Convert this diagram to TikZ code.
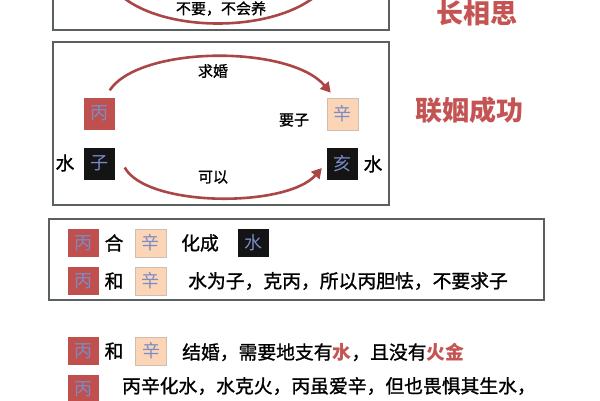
\documentclass[tikz,border=0pt]{standalone}
\usepackage{fontspec}
\newfontfamily\cjk{Noto Sans CJK SC}
\newfontfamily\cjkdark[FakeBold=1.2]{Noto Sans CJK SC}
\usetikzlibrary{arrows.meta}
\definecolor{bingred}{RGB}{192,80,77}
\definecolor{xinpeach}{RGB}{251,213,181}
\definecolor{xinedge}{RGB}{205,190,175}
\definecolor{glyphblue}{RGB}{120,140,200}
\definecolor{titlered}{RGB}{196,84,84}
\definecolor{arcred}{RGB}{170,70,70}
\definecolor{framegray}{RGB}{90,95,95}
\tikzset{
  ganzhi/.style={minimum width=31pt, minimum height=28pt, inner sep=0pt, text=glyphblue, font=\cjk\fontsize{18}{18}\selectfont},
  bingbox/.style={ganzhi, fill=bingred},
  xinbox/.style={ganzhi, fill=xinpeach, draw=xinedge, line width=0.6pt},
  heibox/.style={ganzhi, fill=black!92},
  frame/.style={draw=framegray, line width=1.2pt},
  note/.style={font=\cjkdark\fontsize{15}{15}\selectfont},
  body/.style={font=\cjkdark\fontsize{18.8}{19}\selectfont, inner sep=0pt},
  title/.style={font=\cjk\bfseries\fontsize{27}{27}\selectfont, text=titlered},
  arcline/.style={draw=arcred, line width=2.6pt, -{Triangle[length=10pt,width=11pt]}},
}
\begin{document}
\begin{tikzpicture}[x=1pt,y=-1pt]
			\clip (0,0) rectangle (600,400);
			%%%%% START %%%%%
			% top box, cut by the page edge
			\draw[frame] (53,-40) rectangle (389,30);
			\coordinate (topl) at (108,-20);
			\coordinate (topr) at (330,-20);
			\draw[draw=arcred, line width=2.6pt] (topl) .. controls (140,38) and (295,38) .. (topr);
			\node[note] (buyao) at (221,8.5) {不要，不会养};
			\node[title] (changxiang) at (477,13) {长相思};
			
			% second box
			\draw[frame] (53,42) rectangle (389,205);
			\node[bingbox, minimum height=32pt] (bing1) at (99,113.5) {丙};
			\node[xinbox, minimum height=32pt] (xin1) at (342.5,114) {辛};
			\node[heibox, minimum height=32pt] (zi) at (99,163.5) {子};
			\node[heibox, minimum height=32pt] (hai) at (342.5,164) {亥};
			\node[body] (shuil) at (65,163) {水};
			\node[body] (shuir) at (373,164) {水};
			\node[note] (qiuhun) at (213,71) {求婚};
			\node[note] (yaozi) at (294,120) {要子};
			\node[note] (keyi) at (213,177) {可以};
			\draw[arcline] ([xshift=-5pt,yshift=7pt]bing1.north east) .. controls +(30,-45) and +(-41,-48) .. ([xshift=4pt,yshift=5pt]xin1.north west);
			\draw[arcline] ([xshift=10pt,yshift=-4pt]zi.east) .. controls +(22,40) and +(-35,40) .. ([xshift=-5pt,yshift=-4pt]hai.west);
			\node[title] (lianyin) at (469,110) {联姻成功};
			
			% third box
			\draw[frame] (49,219) rectangle (544,300);
			\node[bingbox] (bing2) at (83.5,243) {丙};
			\node[body] (he2) at (114,243) {合};
			\node[xinbox] (xin2) at (150.5,243) {辛};
			\node[body] (huacheng) at (200,243) {化成};
			\node[heibox] (shui2) at (253.5,243) {水};
			
			\node[bingbox] (bing3) at (83.5,281) {丙};
			\node[body] (he3) at (114,281) {和};
			\node[xinbox] (xin3) at (150.5,281) {辛};
			\node[body, anchor=west] (shuiweizi) at (188,281) {水为子，克丙，所以丙胆怯，不要求子};
			
			% lines below the box
			\node[bingbox] (bing4) at (83.5,351) {丙};
			\node[body] (he4) at (114,351) {和};
			\node[xinbox] (xin4) at (151,351) {辛};
			\node[body, anchor=west] (jiehun) at (182,352) {结婚，需要地支有\textcolor{titlered}{\cjk\bfseries 水}，且没有\textcolor{titlered}{\cjk\bfseries 火金}};
			
			\node[bingbox] (bing5) at (83.5,389) {丙};
			\node[body, anchor=west] (huashui) at (122,386) {丙辛化水，水克火，丙虽爱辛，但也畏惧其生水，};
			%%%%% END %%%%%
\end{tikzpicture}
\end{document}
